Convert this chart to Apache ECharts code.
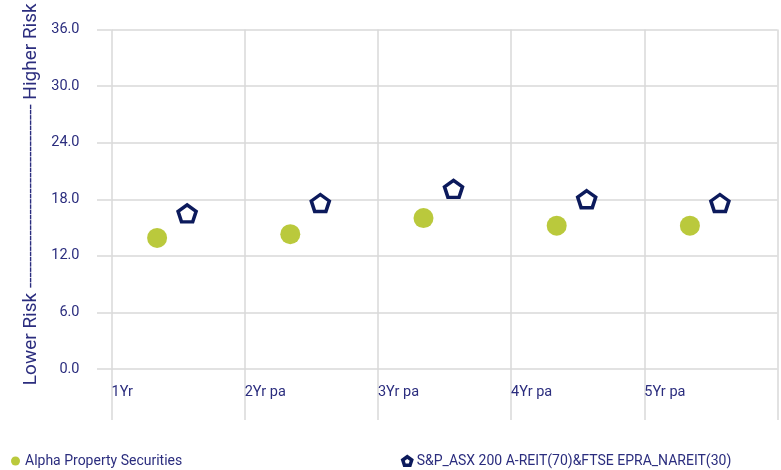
<!DOCTYPE html>
<html>
<head>
<meta charset="utf-8">
<script src="https://cdn.jsdelivr.net/npm/echarts@6/dist/echarts.min.js"></script>
<style>
html,body{margin:0;padding:0;background:#fff;}
#chart{width:781px;height:470px;}
</style>
</head>
<body>
<div id="chart"></div>
<script>
var categories = ['1Yr', '2Yr pa', '3Yr pa', '4Yr pa', '5Yr pa'];
var fundName = 'Alpha Property Securities';
var benchName = 'S&P_ASX 200 A-REIT(70)&FTSE EPRA_NAREIT(30)';
var fundValues = [13.9, 14.3, 16.0, 15.2, 15.2];
var benchValues = [16.5, 17.6, 19.1, 18.0, 17.6];
var yMin = 0, yMax = 36, yStep = 6;
var yAxisTitle = 'Lower Risk ' + new Array(36).join('-') + ' Higher Risk';

var navyText = '#2b2d7e';
var gridGray = '#d9d9d9';
var font = 'Roboto, sans-serif';
var pentagon = 'path://M0,-1L0.951,-0.309L0.588,0.809L-0.588,0.809L-0.951,-0.309Z';

var chart = echarts.init(document.getElementById('chart'));
chart.setOption({
  animation: false,
  backgroundColor: '#fff',
  grid: { left: 111.5, right: 3.5, top: 29.5, bottom: 101, containLabel: false },
  xAxis: [
    { type: 'category', data: categories, show: false, boundaryGap: true, position: 'top' },
    {
      type: 'value', min: 0, max: categories.length, interval: 1, position: 'bottom',
      axisLine: { show: false },
      axisTick: { show: true, length: 51, lineStyle: { color: gridGray, width: 1.5 } },
      splitLine: { show: true, lineStyle: { color: gridGray, width: 1.5 } },
      axisLabel: {
        align: 'left', margin: 16, fontSize: 14.5, fontFamily: font, color: navyText,
        formatter: function (v) { return categories[v] !== undefined ? categories[v] : ''; }
      }
    }
  ],
  yAxis: {
    type: 'value', min: yMin, max: yMax, interval: yStep,
    axisLine: { show: false },
    axisTick: { show: true, length: 14.5, lineStyle: { color: gridGray, width: 1.5 } },
    splitLine: { show: true, lineStyle: { color: gridGray, width: 1.5 } },
    axisLabel: {
      margin: 32, fontSize: 14.5, fontFamily: font, color: navyText,
      padding: [4, 0, 0, 0],
      formatter: function (v) { return v.toFixed(1); }
    },
    name: yAxisTitle,
    nameLocation: 'middle',
    nameRotate: 90,
    nameGap: 69,
    nameTextStyle: { fontSize: 19, fontFamily: font, color: navyText, padding: [0, 0, 0, 10] }
  },
  legend: [
    {
      data: [fundName], left: 11, top: 454, padding: 0, itemWidth: 9, itemHeight: 9, itemGap: 5,
      textStyle: { fontSize: 14, fontFamily: font, color: navyText }
    },
    {
      data: [benchName], left: 401, top: 454, padding: 0, itemWidth: 9, itemHeight: 9, itemGap: 5,
      itemStyle: { borderWidth: 3.5 },
      textStyle: { fontSize: 14, fontFamily: font, color: navyText }
    }
  ],
  series: [
    {
      name: fundName, type: 'scatter', xAxisIndex: 0, data: fundValues,
      symbol: 'circle', symbolSize: 20, symbolOffset: [-21, 0],
      itemStyle: { color: '#a9bc0b' }
    },
    {
      name: benchName, type: 'scatter', xAxisIndex: 0, data: benchValues,
      symbol: pentagon, symbolSize: [18, 17], symbolOffset: [9, 0],
      itemStyle: { color: '#ffffff', borderColor: '#0c1a5c', borderWidth: 3.5, opacity: 1 }
    }
  ]
});
</script>
</body>
</html>
